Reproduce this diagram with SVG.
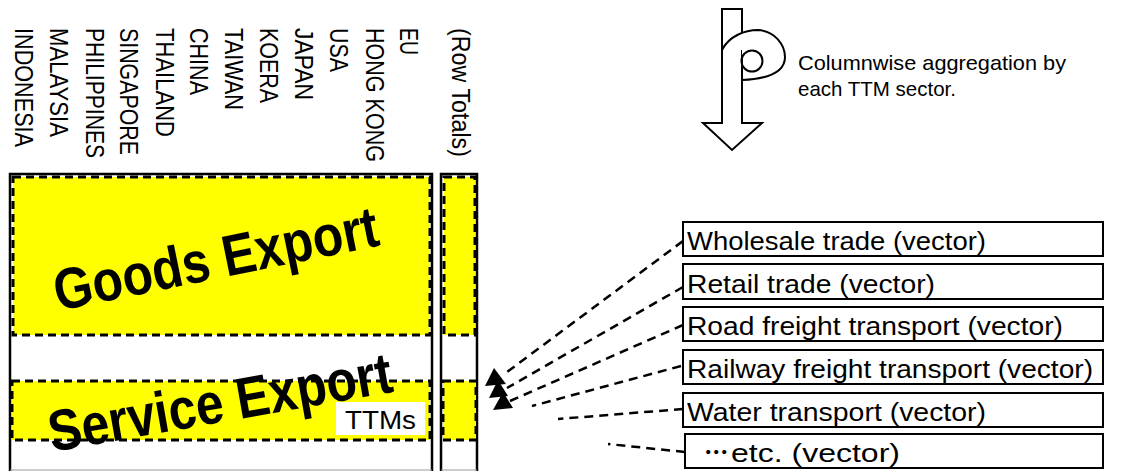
<svg xmlns="http://www.w3.org/2000/svg" width="1144" height="471" viewBox="0 0 1144 471">
<style>
.lbl{font-family:"Liberation Sans",Arial,sans-serif;font-size:25px;fill:#000}
.box{fill:#fff;stroke:#000;stroke-width:2}
.btxt{font-family:"Liberation Sans",Arial,"Noto Sans CJK JP",sans-serif;font-size:25px;fill:#000}
.frame{fill:#fff;stroke:#000;stroke-width:2.5}
.yel{fill:#ffff00;stroke:#000;stroke-width:3;stroke-dasharray:8 5}
.big{font-family:"Liberation Sans",Arial,sans-serif;font-weight:bold;font-size:58px;fill:#000}
.conn{stroke:#000;stroke-width:2.5;stroke-dasharray:9 6;fill:none}
.ah{fill:#000;stroke:none}
.arr{fill:#fff;stroke:#000;stroke-width:2;stroke-linejoin:miter}
.note{font-family:"Liberation Sans",Arial,sans-serif;font-size:21px;fill:#000}
</style>
<rect width="1144" height="471" fill="#fff"/>

<g id="column-labels">
<text class="lbl" transform="translate(15,28) rotate(90)" textLength="119" lengthAdjust="spacingAndGlyphs">INDONESIA</text>
<text class="lbl" transform="translate(50,28) rotate(90)" textLength="109" lengthAdjust="spacingAndGlyphs">MALAYSIA</text>
<text class="lbl" transform="translate(86,28) rotate(90)" textLength="130" lengthAdjust="spacingAndGlyphs">PHILIPPINES</text>
<text class="lbl" transform="translate(120,28) rotate(90)" textLength="127" lengthAdjust="spacingAndGlyphs">SINGAPORE</text>
<text class="lbl" transform="translate(156,28) rotate(90)" textLength="109" lengthAdjust="spacingAndGlyphs">THAILAND</text>
<text class="lbl" transform="translate(190,28) rotate(90)" textLength="67" lengthAdjust="spacingAndGlyphs">CHINA</text>
<text class="lbl" transform="translate(225,28) rotate(90)" textLength="82" lengthAdjust="spacingAndGlyphs">TAIWAN</text>
<text class="lbl" transform="translate(260,28) rotate(90)" textLength="75" lengthAdjust="spacingAndGlyphs">KOERA</text>
<text class="lbl" transform="translate(295,28) rotate(90)" textLength="72" lengthAdjust="spacingAndGlyphs">JAPAN</text>
<text class="lbl" transform="translate(330,28) rotate(90)" textLength="44" lengthAdjust="spacingAndGlyphs">USA</text>
<text class="lbl" transform="translate(366,28) rotate(90)" textLength="134" lengthAdjust="spacingAndGlyphs">HONG KONG</text>
<text class="lbl" transform="translate(400,28) rotate(90)" textLength="27" lengthAdjust="spacingAndGlyphs">EU</text>
<text class="lbl" transform="translate(452,28) rotate(90)" textLength="129" lengthAdjust="spacingAndGlyphs">(Row Totals)</text>
</g>

<g id="main-table">
<rect class="frame" x="10" y="174" width="422" height="300"/>
<rect class="yel" x="13" y="177" width="417" height="158"/>
<rect class="yel" x="12" y="381" width="418" height="59"/>
<line x1="10" y1="470" x2="432" y2="470" stroke="#999" stroke-width="1"/>
<text class="big" transform="translate(58,311) rotate(-11.5)" textLength="330" lengthAdjust="spacingAndGlyphs">Goods Export</text>
<text class="big" transform="translate(52,452) rotate(-10)" textLength="348" lengthAdjust="spacingAndGlyphs">Service Export</text>
<rect x="336" y="402" width="89" height="33" fill="#fff"/>
<text x="345" y="429" style="font-family:'Liberation Sans',Arial,sans-serif;font-size:26px" textLength="71" lengthAdjust="spacingAndGlyphs">TTMs</text>
</g>

<g id="row-totals">
<rect class="frame" x="441" y="174" width="36" height="300"/>
<rect class="yel" x="444" y="177" width="31" height="158"/>
<rect class="yel" x="443" y="381" width="33" height="59"/>
<line x1="441" y1="470" x2="477" y2="470" stroke="#999" stroke-width="1"/>
</g>

<g id="aggregation-arrow">
<path class="arr" d="M722,9 L742,9 L742,123 L762,123 L732,150 L703,123 L722,123 Z"/>
<path d="M723,50 C729,36 745,30 758,30 C775,31 785,45 785,57 C785,73 765,79 742,80 L742,50 Z" fill="#fff" stroke="none"/>
<path d="M722,50 C729,36 745,30 758,30 C775,31 785,45 785,57 C785,73 765,79 742,80" fill="none" stroke="#000" stroke-width="2"/>
<ellipse cx="752" cy="61" rx="10.5" ry="10.5" fill="none" stroke="#000" stroke-width="2"/>
<line x1="742" y1="60" x2="742" y2="123" stroke="#000" stroke-width="2"/>
<text class="note" x="798" y="70" textLength="268" lengthAdjust="spacingAndGlyphs">Columnwise aggregation by</text>
<text class="note" x="798" y="96" textLength="158" lengthAdjust="spacingAndGlyphs">each TTM sector.</text>
</g>

<g id="sector-wholesale"><rect class="box" x="683" y="222" width="420" height="34"/><text class="btxt" x="687" y="250" textLength="299" lengthAdjust="spacingAndGlyphs">Wholesale trade (vector)</text></g>
<g id="sector-retail"><rect class="box" x="683" y="264" width="420" height="35"/><text class="btxt" x="687" y="293" textLength="248" lengthAdjust="spacingAndGlyphs">Retail trade (vector)</text></g>
<g id="sector-road"><rect class="box" x="683" y="307" width="420" height="34"/><text class="btxt" x="687" y="335" textLength="376" lengthAdjust="spacingAndGlyphs">Road freight transport (vector)</text></g>
<g id="sector-railway"><rect class="box" x="683" y="350" width="420" height="34"/><text class="btxt" x="687" y="378" textLength="406" lengthAdjust="spacingAndGlyphs">Railway freight transport (vector)</text></g>
<g id="sector-water"><rect class="box" x="683" y="393" width="420" height="34"/><text class="btxt" x="687" y="421" textLength="299" lengthAdjust="spacingAndGlyphs">Water transport (vector)</text></g>
<g id="sector-etc"><rect class="box" x="685" y="434" width="418" height="34"/><text class="btxt" y="462"><tspan x="702 710 718">･･･</tspan><tspan x="731" textLength="169" lengthAdjust="spacingAndGlyphs">etc. (vector)</tspan></text></g>

<g id="connectors">
<line class="conn" x1="683" y1="241" x2="503" y2="375"/>
<line class="conn" x1="683" y1="287" x2="507" y2="388"/>
<line class="conn" x1="683" y1="325" x2="510" y2="401"/>
<line class="conn" x1="681" y1="366" x2="532" y2="406"/>
<line class="conn" x1="683" y1="409" x2="558" y2="419"/>
<line class="conn" x1="685" y1="452" x2="608" y2="444"/>
<polygon class="ah" points="494,368 485,386 506,384"/>
<polygon class="ah" points="498,380 489,398 508,396"/>
<polygon class="ah" points="503,392 493,410 513,408"/>
</g>
</svg>
